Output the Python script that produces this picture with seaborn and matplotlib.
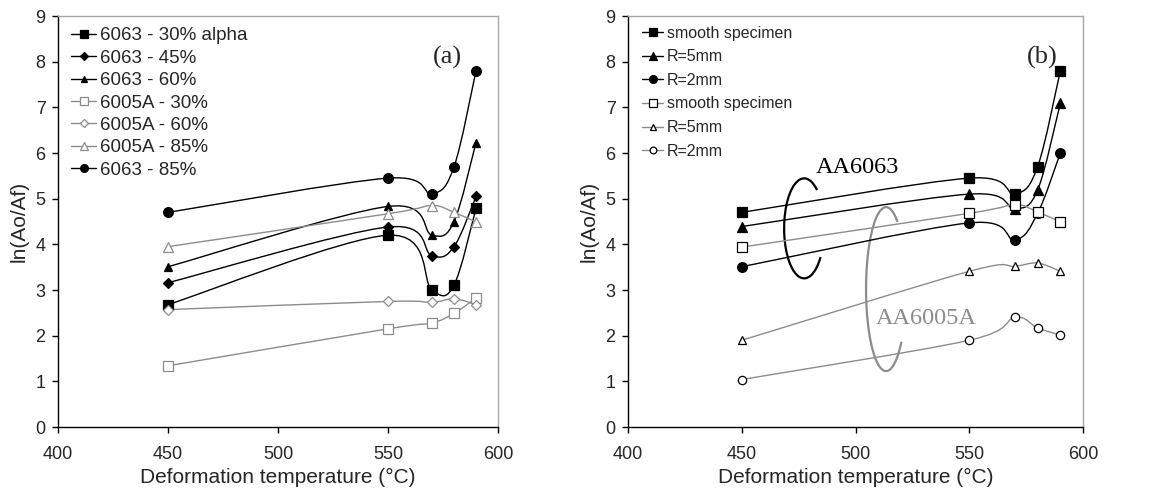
import numpy as np
import pandas as pd
import matplotlib
matplotlib.use("Agg")
import matplotlib.pyplot as plt
import seaborn as sns
from matplotlib.path import Path
from matplotlib.patches import PathPatch, Arc
from matplotlib.lines import Line2D

# data
temps = [450, 550, 570, 580, 590]

# panel (a)
a_labels = ['6063 - 30% alpha', '6063 - 45%', '6063 - 60%',
            '6005A - 30%', '6005A - 60%', '6005A - 85%', '6063 - 85%']
a_6063_30 = [2.68, 4.20, 3.00, 3.11, 4.79]
a_6063_45 = [3.16, 4.38, 3.75, 3.95, 5.05]
a_6063_60 = [3.51, 4.83, 4.20, 4.50, 6.23]
a_6005_30 = [1.34, 2.15, 2.28, 2.49, 2.82]
a_6005_60 = [2.57, 2.75, 2.73, 2.81, 2.68]
a_6005_85 = [3.95, 4.67, 4.85, 4.70, 4.49]
a_6063_85 = [4.70, 5.45, 5.11, 5.70, 7.80]

# panel (b)
b_labels = ['smooth specimen', 'R=5mm', 'R=2mm',
            'smooth specimen', 'R=5mm', 'R=2mm']
b_6063_smooth = [4.70, 5.45, 5.11, 5.70, 7.80]
b_6063_r5 = [4.39, 5.10, 4.78, 5.19, 7.09]
b_6063_r2 = [3.51, 4.47, 4.10, 4.68, 6.00]
b_6005_smooth = [3.94, 4.68, 4.87, 4.71, 4.49]
b_6005_r5 = [1.90, 3.41, 3.52, 3.59, 3.41]
b_6005_r2 = [1.04, 1.90, 2.40, 2.17, 2.01]

GRAY = '#8c8c8c'
SERIF = ['Liberation Serif', 'DejaVu Serif']


def smooth_path(x, y):
    # excel-like smoothed line (catmull-rom as cubic bezier)
    P = np.column_stack([x, y]).astype(float)
    P_ext = np.vstack([P[0], P, P[-1]])
    verts = [P[0]]
    codes = [Path.MOVETO]
    for i in range(len(P) - 1):
        p0, p1, p2, p3 = P_ext[i], P_ext[i + 1], P_ext[i + 2], P_ext[i + 3]
        c1 = p1 + (p2 - p0) / 6.0
        c2 = p2 - (p3 - p1) / 6.0
        verts += [c1, c2, p2]
        codes += [Path.CURVE4] * 3
    return Path(verts, codes)


def draw_series(ax, vals, marker, ms, lc, fc, ec, lw=1.0):
    ax.add_patch(PathPatch(smooth_path(temps, vals), facecolor='none',
                           edgecolor=lc, lw=lw, zorder=2))
    sns.lineplot(x=temps, y=vals, ax=ax, marker=marker, markersize=ms,
                 linewidth=0, color=lc, markerfacecolor=fc,
                 markeredgecolor=ec, markeredgewidth=0.9, legend=False,
                 zorder=3)
    return Line2D([], [], color=lc, lw=lw, marker=marker, markersize=ms * 0.8,
                  markerfacecolor=fc, markeredgecolor=ec, markeredgewidth=0.9)


def bracket(ax, cx, cy, w, h, t1, t2, color):
    # arc angles given as parametric angles of the ellipse
    def conv(t):
        t = np.deg2rad(t)
        return np.rad2deg(np.arctan2(np.sin(t) * h / w, np.cos(t)))
    ax.add_patch(Arc((cx, cy), w, h, theta1=conv(t1), theta2=conv(t2),
                     color=color, lw=1.6))


sns.set_style('ticks')
plt.rcParams['font.family'] = ['Liberation Sans', 'DejaVu Sans']

fig = plt.figure(figsize=(11.65, 4.96), dpi=100)
ax1 = fig.add_axes([0.0498, 0.1391, 0.3777, 0.8286])
ax2 = fig.add_axes([0.5391, 0.1391, 0.3906, 0.8286])

# panel (a)
a_series = [
    (a_6063_30, 's', 6.5, 'black', 'black', 'black'),
    (a_6063_45, 'D', 4.8, 'black', 'black', 'black'),
    (a_6063_60, '^', 6.0, 'black', 'black', 'black'),
    (a_6005_30, 's', 7.0, GRAY, 'white', GRAY),
    (a_6005_60, 'D', 5.0, GRAY, 'white', GRAY),
    (a_6005_85, '^', 7.0, GRAY, 'white', GRAY),
    (a_6063_85, 'o', 7.0, 'black', 'black', 'black'),
]
handles_a = [draw_series(ax1, *s) for s in a_series]
ax1.legend(handles_a, a_labels, loc='upper left', frameon=False,
           fontsize=13.5, handlelength=1.3, handletextpad=0.2,
           labelspacing=0.28, borderaxespad=0.2, bbox_to_anchor=(0.005, 1.0))
ax1.text(577, 8.1, '(a)', family=SERIF, fontsize=19, ha='center', va='center')

# panel (b)
b_series = [
    (b_6063_smooth, 's', 6.5, 'black', 'black', 'black'),
    (b_6063_r5, '^', 6.5, 'black', 'black', 'black'),
    (b_6063_r2, 'o', 7.0, 'black', 'black', 'black'),
    (b_6005_smooth, 's', 6.5, GRAY, 'white', 'black'),
    (b_6005_r5, '^', 6.0, GRAY, 'white', 'black'),
    (b_6005_r2, 'o', 6.0, GRAY, 'white', 'black'),
]
handles_b = [draw_series(ax2, *s) for s in b_series]
ax2.legend(handles_b, b_labels, loc='upper left', frameon=False,
           fontsize=11.5, handlelength=1.3, handletextpad=0.25,
           labelspacing=0.54, borderaxespad=0.2, bbox_to_anchor=(0.01, 1.0))
ax2.text(582, 8.1, '(b)', family=SERIF, fontsize=19, ha='center', va='center')
ax2.text(501, 5.69, 'AA6063', family=SERIF, fontsize=17.5,
         ha='center', va='center', color='black')
ax2.text(531, 2.38, 'AA6005A', family=SERIF, fontsize=17.5,
         ha='center', va='center', color=GRAY)
bracket(ax2, 477.4, 4.35, 17.6, 2.19, 50, 325, 'black')
bracket(ax2, 513.4, 3.02, 17.6, 3.59, 55, 320, GRAY)

for ax in (ax1, ax2):
    ax.set_xlim(400, 600)
    ax.set_ylim(0, 9)
    ax.set_xticks([400, 450, 500, 550, 600])
    ax.set_yticks(range(10))
    ax.set_xlabel('Deformation temperature (°C)', fontsize=15, labelpad=3)
    ax.set_ylabel('ln(Ao/Af)', fontsize=15, labelpad=5)
    ax.tick_params(labelsize=13, direction='out', length=4, width=1,
                   color='black')
    ax.tick_params(axis='x', pad=10)
    ax.tick_params(axis='y', pad=5)
    for side in ('left', 'bottom'):
        ax.spines[side].set_color('black')
        ax.spines[side].set_linewidth(1.0)
    for side in ('top', 'right'):
        ax.spines[side].set_visible(True)
        ax.spines[side].set_color('#a6a6a6')
        ax.spines[side].set_linewidth(1.0)

fig.savefig('out.png', dpi=100)
